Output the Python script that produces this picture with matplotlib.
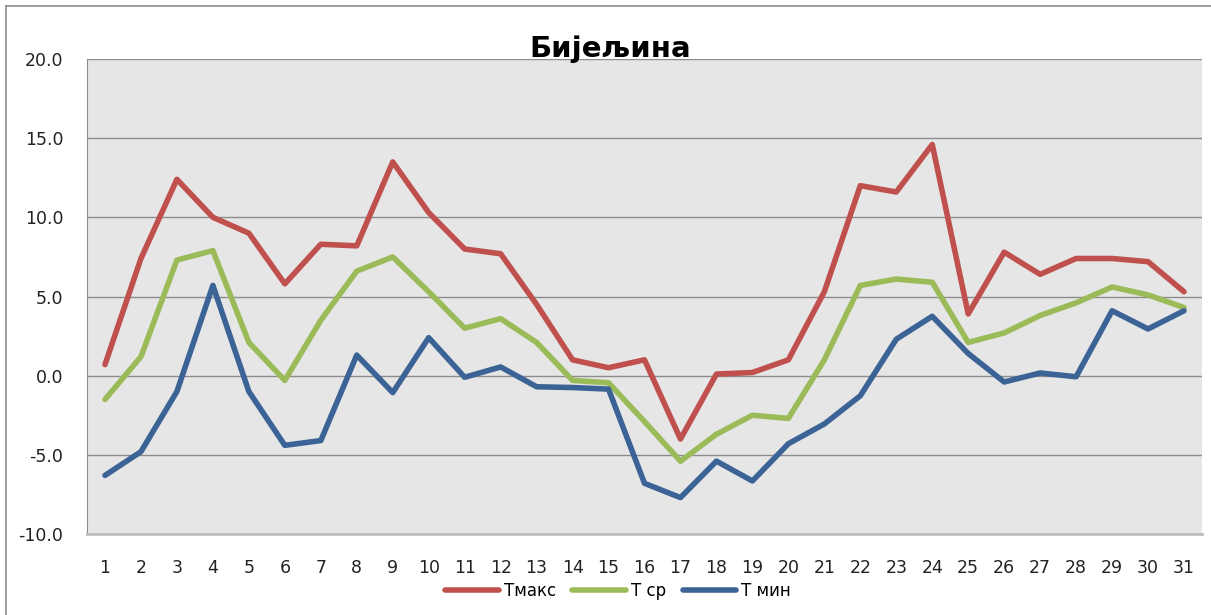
import matplotlib
matplotlib.use("Agg")
import matplotlib.pyplot as plt
from matplotlib.lines import Line2D

days = list(range(1, 32))

t_max = [0.7, 7.4, 12.4, 10.0, 9.0, 5.8, 8.3, 8.2, 13.5, 10.3, 8.0, 7.7, 4.5, 1.0, 0.5,
         1.0, -4.0, 0.1, 0.2, 1.0, 5.3, 12.0, 11.6, 14.6, 3.9, 7.8, 6.4, 7.4, 7.4, 7.2, 5.3]
t_avg = [-1.5, 1.2, 7.3, 7.9, 2.1, -0.3, 3.5, 6.6, 7.5, 5.3, 3.0, 3.6, 2.1, -0.3, -0.45,
         -2.9, -5.4, -3.7, -2.5, -2.7, 1.0, 5.7, 6.1, 5.9, 2.1, 2.7, 3.8, 4.6, 5.6, 5.1, 4.3]
t_min = [-6.3, -4.8, -1.0, 5.7, -1.0, -4.4, -4.1, 1.3, -1.07, 2.4, -0.1, 0.55, -0.7, -0.75, -0.85,
         -6.8, -7.7, -5.4, -6.65, -4.3, -3.05, -1.27, 2.3, 3.75, 1.4, -0.4, 0.17, -0.07, 4.1, 2.95, 4.1]

series_names = ["Тмакс", "T ср", "T мин"]
colors = ["#C0504D", "#9BBB59", "#3B6396"]
title = "Бијељина"

W, H = 1211, 615
fig = plt.figure(figsize=(W / 100, H / 100), dpi=100)
fig.patch.set_facecolor("white")

# outer chart border (only top and left are visible in the crop)
fig.add_artist(Line2D([6 / W, 6 / W], [0, 1 - 6 / H], color="#8C8C8C", lw=1.2, transform=fig.transFigure))
fig.add_artist(Line2D([6 / W, 1], [1 - 6 / H, 1 - 6 / H], color="#8C8C8C", lw=1.2, transform=fig.transFigure))

ax = fig.add_axes([87 / W, 1 - 534 / H, (1202 - 87) / W, (534 - 59) / H])
ax.set_facecolor("#E6E6E6")

for vals, c, name in zip([t_max, t_avg, t_min], colors, series_names):
    ax.plot(days, vals, color=c, lw=4, solid_capstyle="round", solid_joinstyle="round",
            label=name, zorder=3)

ax.set_xlim(0.5, 31.5)
ax.set_ylim(-10, 20)
ax.set_yticks([-10, -5, 0, 5, 10, 15, 20])
ax.set_yticklabels([f"{v:.1f}" for v in [-10, -5, 0, 5, 10, 15, 20]])
ax.set_xticks(days)
ax.grid(axis="y", color="#8C8C8C", lw=1, zorder=1)
ax.tick_params(axis="both", length=0, labelsize=12.5, colors="#222222")
ax.tick_params(axis="x", pad=18)
ax.tick_params(axis="y", pad=17)

for side in ["top", "right"]:
    ax.spines[side].set_visible(False)
ax.spines["left"].set_color("#8C8C8C")
ax.spines["bottom"].set_color("#BDBDBD")
ax.spines["bottom"].set_linewidth(2)

fig.text(610 / W, 1 - 49 / H, title, ha="center", va="center",
         fontsize=21, fontweight="bold", color="black")

fig.legend(loc="center", bbox_to_anchor=(618 / W, 1 - 591 / H), ncol=3, frameon=False,
           fontsize=12, handlelength=3.2, handletextpad=0.3, columnspacing=1.0)

fig.savefig("out.png", dpi=100)
